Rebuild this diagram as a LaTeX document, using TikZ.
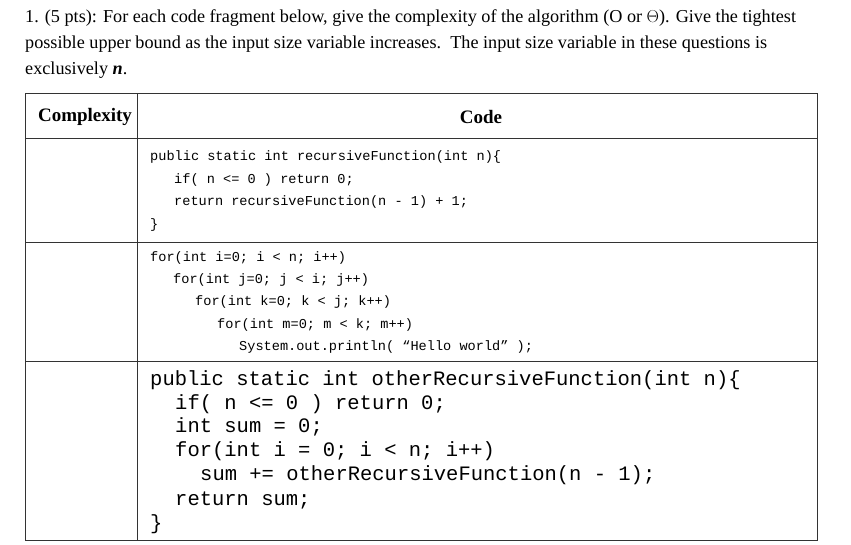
\documentclass[tikz,border=0pt]{standalone}
\usepackage{fontspec}
\setmainfont{Liberation Serif}
\newfontfamily\codefont{Liberation Mono}
\begin{document}
\begin{tikzpicture}[x=1pt,y=-1pt,
  txt/.style={anchor=west,inner sep=0pt,font=\fontsize{18.2}{20}\selectfont},
  cs/.style={anchor=west,inner sep=0pt,font=\codefont\fontsize{13.6}{16}\selectfont},
  cl/.style={anchor=west,inner sep=0pt,font=\codefont\fontsize{20.5}{24}\selectfont},
  hd/.style={inner sep=0pt,font=\fontsize{19}{20}\selectfont\bfseries},
  grid/.style={draw=black!80,line width=0.8pt}]
\useasboundingbox (0,0) rectangle (851,544);
\node[txt] (t1) at (25,18) {1. (5 pts): For each code fragment below, give the complexity of the algorithm (O or $\Theta$). Give the tightest};
\node[txt] (t2) at (25,44) {possible upper bound as the input size variable increases.\ \ The input size variable in these questions is};
\node[txt] (t3) at (25,70) {exclusively \textbf{\textit{n}}.};
\draw[grid] (25,93) rectangle (817,540);
\draw[grid] (137,93) -- (137,540);
\draw[grid] (25,138) -- (817,138);
\draw[grid] (25,242) -- (817,242);
\draw[grid] (25,361) -- (817,361);
\node[hd] (h1) at (85,117) {Complexity};
\node[hd] (h2) at (481,117) {Code};
\node[cs] (a1) at (150,157) {public static int recursiveFunction(int n)\{};
\node[cs] (a2) at (174,180) {if( n <= 0 ) return 0;};
\node[cs] (a3) at (174,202) {return recursiveFunction(n - 1) + 1;};
\node[cs] (a4) at (150,225) {\}};
\node[cs] (b1) at (150,258) {for(int i=0; i < n; i++)};
\node[cs] (b2) at (173,280) {for(int j=0; j < i; j++)};
\node[cs] (b3) at (195,302) {for(int k=0; k < j; k++)};
\node[cs] (b4) at (217,325) {for(int m=0; m < k; m++)};
\node[cs] (b5) at (239,347) {System.out.println( “Hello world” );};
\node[cl] (c1) at (150,380) {public static int otherRecursiveFunction(int n)\{};
\node[cl] (c2) at (175,404) {if( n <= 0 ) return 0;};
\node[cl] (c3) at (175,427) {int sum = 0;};
\node[cl] (c4) at (175,451) {for(int i = 0; i < n; i++)};
\node[cl] (c5) at (200,475) {sum += otherRecursiveFunction(n - 1);};
\node[cl] (c6) at (175,500) {return sum;};
\node[cl] (c7) at (150,524) {\}};
\end{tikzpicture}
\end{document}
